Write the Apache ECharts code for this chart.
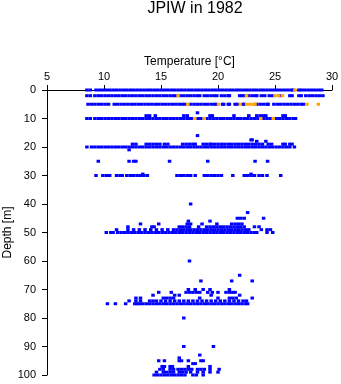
<!DOCTYPE html>
<html>
<head>
<meta charset="utf-8">
<script src="https://cdn.jsdelivr.net/npm/echarts@6/dist/echarts.min.js"></script>
<style>html,body{margin:0;padding:0;background:#fff;}#c{width:341px;height:384px;}</style>
</head>
<body>
<div id="c"></div>
<script>
// ---- data (temperature in °C per depth in m) ----
const titleText = 'JPIW in 1982';
const xName = 'Temperature [°C]';
const yName = 'Depth [m]';
const xTicks = [5, 10, 15, 20, 25, 30];
const yTicks = [0, 10, 20, 30, 40, 50, 60, 70, 80, 90, 100];

// blue observations
const b0 = [8.5, 8.8, 9.3, 9.6, 9.9, 10.2, 10.5, 10.8, 11.1, 11.4, 11.7, 12.0, 12.3, 12.6, 12.9, 13.2, 13.5, 13.8, 14.1, 14.4, 14.7, 15.0, 15.3, 15.6, 15.9, 16.2, 16.5, 16.8, 17.1, 17.4, 17.7, 18.0, 18.3, 18.6, 18.9, 19.2, 19.5, 19.8, 20.1, 20.4, 20.7, 21.0, 21.3, 21.6, 21.9, 22.2, 22.5, 22.8, 23.1, 23.4, 23.7, 24.0, 24.3, 24.6, 24.9, 25.2, 25.5, 25.8, 26.1, 26.4, 26.6, 27.1, 27.3, 27.6, 27.9, 28.2, 28.5, 28.8, 29.1];
const b2 = [8.5, 8.8, 9.2, 9.5, 9.8, 10.1, 10.4, 10.7, 11.0, 11.3, 11.6, 11.9, 12.2, 12.5, 12.8, 13.1, 13.4, 13.7, 14.0, 14.3, 14.6, 14.9, 15.2, 15.5, 15.8, 16.1, 16.3, 16.7, 17.0, 17.3, 17.6, 17.9, 18.2, 18.4, 18.8, 19.1, 19.4, 19.7, 19.9, 20.3, 20.6, 20.9, 21.0, 21.9, 22.1, 22.3, 22.7, 23.0, 23.3, 23.4, 23.8, 24.1, 24.5, 24.8, 25.45, 26.3, 26.5, 27.1, 27.3, 27.7, 28.0, 28.3, 28.6, 28.9, 29.2];
const b5 = [8.6, 8.9, 9.2, 9.5, 9.8, 10.1, 10.4, 10.9, 11.2, 11.5, 11.8, 12.1, 12.4, 12.7, 13.0, 13.3, 13.6, 13.9, 14.2, 14.5, 14.8, 15.1, 15.4, 15.7, 16.0, 16.3, 16.6, 16.9, 17.1, 17.6, 17.9, 18.2, 18.5, 18.8, 19.1, 19.4, 19.7, 19.85, 20.4, 20.5, 20.9, 21.0, 21.5, 21.7, 22.2, 22.3, 23.4, 23.7, 24.0, 24.3, 24.4, 24.9, 25.2, 25.5, 25.8, 26.1, 26.4, 26.7, 27.0, 27.3, 27.5];
const b8 = [18.2];
const b9 = [13.7, 14.0, 14.5, 17.0, 17.3, 19.3, 19.5, 21.4, 22.7, 23.4, 23.7, 24.0, 24.2, 25.7, 25.9];
const b10 = [8.5, 8.8, 9.2, 9.5, 9.8, 10.1, 10.4, 10.7, 11.0, 11.3, 11.6, 11.9, 12.2, 12.5, 12.8, 13.1, 13.4, 13.7, 14.0, 14.3, 14.6, 14.9, 15.2, 15.5, 15.8, 16.1, 16.4, 16.7, 17.0, 17.3, 17.6, 17.7, 18.25, 18.5, 19.0, 19.3, 19.6, 19.9, 20.2, 20.5, 20.8, 21.1, 21.4, 21.7, 22.0, 22.3, 22.6, 22.9, 23.2, 23.5, 24.0, 24.3, 24.6, 25.1, 25.4, 25.7, 26.0, 26.3, 26.6, 26.8];
const b16 = [18.2];
const b17 = [22.9, 23.0];
const b18 = [23.4, 24.2];
const b19 = [12.5, 12.8, 13.7, 14.0, 14.3, 14.6, 14.9, 15.3, 15.6, 16.9, 17.2, 17.5, 17.8, 18.0, 18.7, 19.0, 19.3, 19.4, 19.7, 20.0, 20.3, 20.6, 20.9, 21.2, 21.5, 21.8, 22.1, 22.4, 22.7, 23.0, 23.3, 23.6, 23.9, 24.4, 24.7, 25.7, 25.9, 26.3, 26.5];
const b20 = [8.5, 8.9, 9.2, 9.5, 9.8, 10.1, 10.4, 10.7, 11.0, 11.3, 11.6, 11.9, 12.2, 12.5, 12.8, 13.1, 13.4, 13.7, 14.0, 14.3, 14.6, 14.9, 15.2, 15.5, 15.8, 16.1, 16.4, 16.7, 17.0, 17.3, 17.6, 17.9, 18.2, 18.5, 18.8, 19.1, 19.4, 19.7, 20.0, 20.3, 20.6, 20.9, 21.2, 21.5, 21.8, 22.1, 22.4, 22.7, 23.0, 23.3, 23.6, 23.9, 24.2, 24.5, 24.8, 25.1, 25.4, 25.7, 26.0, 26.3, 26.7];
const b21 = [12.2];
const b25 = [9.5, 12.2, 12.6, 12.8, 15.75, 19.1, 23.25, 24.35];
const b29 = [13.4, 22.9];
const b30 = [9.3, 9.9, 10.2, 10.5, 11.1, 11.4, 11.6, 12.0, 12.3, 12.6, 12.9, 13.2, 13.5, 13.8, 16.4, 16.7, 17.0, 17.3, 17.6, 18.0, 18.8, 19.1, 19.4, 19.7, 20.0, 20.3, 21.3, 22.3, 22.6, 22.9, 23.2, 23.6, 23.9, 24.3, 25.5];
const b40 = [17.6];
const b43 = [22.6];
const b45 = [21.7, 22.0, 22.3, 24.0];
const b46 = [17.4, 19.3];
const b47 = [13.2, 14.8, 17.3, 17.6, 18.6, 19.9, 21.2, 21.5, 21.8, 22.1];
const b48 = [12.1, 14.2, 14.4, 16.6, 16.9, 17.2, 17.5, 18.3, 19.0, 19.3, 19.6, 19.9, 20.2, 20.5, 20.8, 21.1, 21.4, 21.7, 22.0, 22.3, 23.2, 23.6];
const b49 = [11.1, 12.1, 12.6, 13.1, 13.6, 14.1, 14.6, 15.1, 15.6, 16.1, 16.4, 16.7, 17.0, 17.3, 17.6, 17.9, 18.2, 18.5, 18.8, 19.1, 19.4, 19.7, 20.0, 20.3, 20.6, 20.9, 21.2, 21.5, 21.8, 22.1, 22.4, 22.7, 23.8, 24.3, 24.6];
const b50 = [10.2, 10.6, 10.8, 11.2, 11.5, 11.8, 12.1, 12.4, 12.7, 13.0, 13.3, 13.6, 13.9, 14.2, 14.5, 14.8, 15.1, 15.4, 15.7, 16.0, 16.3, 16.6, 16.9, 17.2, 17.5, 17.8, 18.1, 18.4, 18.7, 19.0, 19.3, 19.6, 19.9, 20.2, 20.5, 20.8, 21.1, 21.4, 21.7, 22.0, 22.3, 22.6, 22.9, 23.2, 23.4, 24.3, 24.8];
const b60 = [17.5];
const b65 = [21.9];
const b67 = [18.5, 21.2, 23.0];
const b70 = [17.4, 18.0, 18.7, 19.3, 21.0];
const b71 = [14.8, 15.9, 17.2, 17.5, 17.8, 18.1, 18.4, 19.1, 19.5, 20.0, 20.7, 21.0, 21.3, 21.5];
const b72 = [14.3, 16.2, 16.6, 19.4, 21.9];
const b73 = [12.8, 13.2, 15.2, 15.5, 15.8, 16.1, 18.4, 20.0, 21.0, 21.3, 21.6, 23.0];
const b74 = [12.2, 12.8, 13.2, 14.0, 14.3, 14.6, 15.0, 15.4, 15.8, 16.2, 16.6, 17.0, 17.4, 17.8, 18.2, 18.6, 19.0, 19.4, 19.8, 20.2, 20.6, 21.0, 21.4, 21.8, 22.2, 22.5];
const b75 = [10.3, 11.0, 11.9, 12.7, 12.9, 13.1, 13.4, 13.7, 14.0, 14.3, 14.6, 14.9, 15.2, 15.5, 15.8, 16.1, 16.4, 16.7, 17.0, 17.3, 17.6, 17.9, 18.2, 18.5, 18.8, 19.1, 19.4, 19.7, 20.0, 20.3, 20.6, 20.9, 21.2, 21.5, 21.8, 22.1, 22.4, 22.6];
const b80 = [17.0];
const b90 = [17.0, 19.6];
const b93 = [18.4];
const b94 = [16.6];
const b95 = [14.8, 15.3, 16.6, 16.8, 17.4, 18.5, 18.7];
const b96 = [17.8, 18.0];
const b97 = [15.1, 15.3, 15.8, 16.0, 17.4, 19.3];
const b98 = [14.9, 15.2, 15.8, 16.1, 16.5, 16.8, 17.1, 17.4, 17.7, 18.2, 18.5, 18.8, 19.3, 20.1];
const b99 = [14.6, 15.2, 15.5, 15.8, 16.1, 16.6, 16.9, 17.2, 17.6, 18.2, 18.7, 19.3, 20.0];
const b100 = [14.4, 14.7, 15.0, 15.3, 15.6, 15.9, 16.2, 16.5, 16.8, 17.1, 17.8, 18.1, 18.7];

// orange observations
const o0 = [26.75];
const o2 = [16.5, 22.5, 25.0, 25.3, 25.65];
const o5 = [17.35, 20.05, 21.95, 22.5, 22.8, 23.1, 23.25, 27.8, 28.8];
const o10 = [17.95, 18.8, 23.75, 24.85];

const blueRows = [[0,b0],[2,b2],[5,b5],[8,b8],[9,b9],[10,b10],[16,b16],[17.5,b17],[18,b18],[19,b19],[20,b20],[21,b21],[25,b25],[29.5,b29],[30,b30],[40,b40],[43,b43],[45,b45],[46,b46],[47,b47],[48,b48],[49,b49],[50,b50],[60,b60],[65,b65],[67,b67],[70,b70],[71,b71],[72,b72],[73,b73],[74,b74],[75,b75],[80,b80],[90,b90],[93,b93],[94,b94],[95,b95],[96,b96],[97,b97],[98,b98],[99,b99],[100,b100]];
const orangeRows = [[0,o0],[2,o2],[5,o5],[10,o10]];

function toPoints(rows) {
  const pts = [];
  rows.forEach(([d, ts]) => ts.forEach(t => pts.push([t, d])));
  return pts;
}

const FONT = '"Liberation Sans", Arial, Helvetica, sans-serif';
const chart = echarts.init(document.getElementById('c'), null, {renderer: 'canvas'});
chart.setOption({
  animation: false,
  backgroundColor: '#fff',
  textStyle: {fontFamily: FONT, color: '#000'},
  title: {
    text: titleText, left: 190, top: -4, textAlign: 'center',
    textStyle: {fontFamily: FONT, fontSize: 16, fontWeight: 'normal', color: '#000'}
  },
  grid: {left: 47, right: 9, top: 90, bottom: 9, containLabel: false, outerBoundsMode: 'none'},
  xAxis: {
    type: 'value', position: 'top', min: xTicks[0], max: xTicks[xTicks.length-1], interval: 5,
    name: xName, nameLocation: 'middle', nameGap: 22, nameMoveOverlap: false,
    nameTextStyle: {fontFamily: FONT, fontSize: 12, color: '#000'},
    axisLine: {show: true, onZero: false, lineStyle: {color: '#000', width: 1}},
    axisTick: {show: true, length: 5, lineStyle: {color: '#000'}},
    axisLabel: {fontFamily: FONT, fontSize: 11, color: '#000', margin: 8},
    splitLine: {show: false}
  },
  yAxis: {
    type: 'value', inverse: true, min: yTicks[0], max: yTicks[yTicks.length-1], interval: 10,
    name: yName, nameLocation: 'middle', nameGap: 33, nameRotate: 90, nameMoveOverlap: false,
    nameTextStyle: {fontFamily: FONT, fontSize: 12, color: '#000'},
    axisLine: {show: true, onZero: false, lineStyle: {color: '#000', width: 1}},
    axisTick: {show: true, length: 5, lineStyle: {color: '#000'}},
    axisLabel: {fontFamily: FONT, fontSize: 11, color: '#000', margin: 11},
    splitLine: {show: false}
  },
  series: [
    {type: 'scatter', data: toPoints(blueRows), symbol: 'rect', symbolSize: [3.5, 3],
     itemStyle: {color: '#0000ff', opacity: 1}, silent: true},
    {type: 'scatter', data: toPoints(orangeRows), symbol: 'rect', symbolSize: [3.5, 3],
     itemStyle: {color: '#ffa500', opacity: 1}, silent: true}
  ]
});
</script>
</body>
</html>
